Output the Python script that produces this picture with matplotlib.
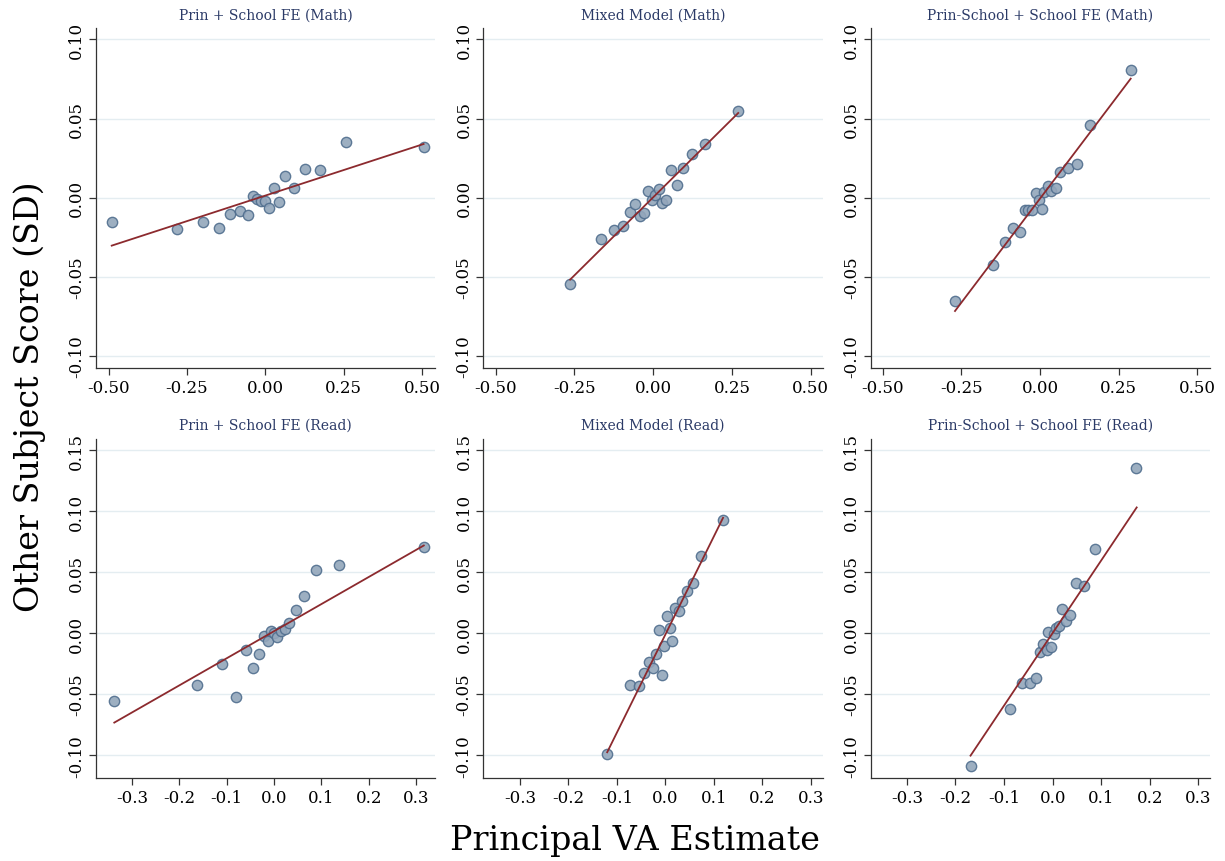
import matplotlib
matplotlib.use("Agg")
import matplotlib.pyplot as plt
from matplotlib.ticker import FormatStrFormatter

# ---- data (binned means + fitted line endpoints) ----
titles = [
    "Prin + School FE (Math)", "Mixed Model (Math)", "Prin-School + School FE (Math)",
    "Prin + School FE (Read)", "Mixed Model (Read)", "Prin-School + School FE (Read)",
]

x_math_prin = [-0.490, -0.283, -0.199, -0.147, -0.112, -0.081, -0.056, -0.040, -0.027, -0.015,
               -0.001, 0.012, 0.027, 0.044, 0.064, 0.091, 0.127, 0.175, 0.259, 0.505]
y_math_prin = [-0.0152, -0.0196, -0.0152, -0.0189, -0.0101, -0.0086, -0.0107, 0.0008, -0.0008, -0.0021,
               -0.0021, -0.0063, 0.0059, -0.0027, 0.0139, 0.0059, 0.0183, 0.0173, 0.0354, 0.0322]

x_math_mixed = [-0.264, -0.166, -0.125, -0.0965, -0.074, -0.058, -0.043, -0.030, -0.017, -0.004,
                0.006, 0.017, 0.029, 0.042, 0.057, 0.074, 0.094, 0.122, 0.165, 0.268]
y_math_mixed = [-0.0545, -0.0263, -0.0204, -0.0179, -0.0093, -0.0042, -0.0118, -0.0099, 0.0042, -0.0017,
                0.0019, 0.0055, -0.0032, -0.0013, 0.0173, 0.0082, 0.0189, 0.0278, 0.0339, 0.0545]

x_math_ps = [-0.270, -0.149, -0.1125, -0.085, -0.064, -0.048, -0.037, -0.025, -0.014, -0.003,
             0.005, 0.014, 0.024, 0.036, 0.051, 0.065, 0.089, 0.116, 0.158, 0.288]
y_math_ps = [-0.0653, -0.0427, -0.0280, -0.0189, -0.0217, -0.0080, -0.0076, -0.0076, 0.0032, -0.0013,
             -0.0069, 0.0036, 0.0074, 0.0042, 0.0059, 0.0164, 0.0187, 0.0211, 0.0457, 0.0804]

x_read_prin = [-0.337, -0.162, -0.110, -0.080, -0.0586, -0.0445, -0.031, -0.021, -0.0134, -0.007,
               0.000, 0.007, 0.0148, 0.023, 0.032, 0.046, 0.064, 0.089, 0.137, 0.316]
y_read_prin = [-0.0553, -0.0424, -0.0252, -0.0525, -0.0134, -0.0284, -0.0170, -0.0019, -0.0068, 0.0016,
               0.0003, -0.0033, 0.0014, 0.0036, 0.0082, 0.0191, 0.0304, 0.0522, 0.0558, 0.0706]

x_read_mixed = [-0.120, -0.072, -0.054, -0.0437, -0.034, -0.025, -0.019, -0.008, -0.0134, -0.0024,
                0.0038, 0.0086, 0.0141, 0.0196, 0.0279, 0.0348, 0.0437, 0.0568, 0.0727, 0.1188]
y_read_mixed = [-0.0993, -0.0427, -0.0429, -0.0328, -0.0235, -0.0287, -0.0167, -0.0345, 0.0030, -0.0104,
                0.0139, 0.0041, -0.0068, 0.0208, 0.0186, 0.0263, 0.0342, 0.0413, 0.0629, 0.0930]

x_read_ps = [-0.169, -0.0878, -0.063, -0.0465, -0.0348, -0.027, -0.0196, -0.012, -0.0024, -0.0086,
             0.0031, 0.0065, 0.0127, 0.0183, 0.0272, 0.0362, 0.0479, 0.0644, 0.0871, 0.1725]
y_read_ps = [-0.1086, -0.0624, -0.0410, -0.0405, -0.0369, -0.0156, -0.0090, -0.0139, -0.0115, 0.0011,
             -0.0005, 0.0044, 0.0057, 0.0200, 0.0104, 0.0153, 0.0410, 0.0388, 0.0689, 0.1351]

# fitted line endpoints (x0, x1), (y0, y1)
fit_x = [(-0.490, 0.505), (-0.264, 0.270), (-0.270, 0.288),
         (-0.337, 0.316), (-0.120, 0.1188), (-0.169, 0.173)]
fit_y = [(-0.0303, 0.0339), (-0.0518, 0.0535), (-0.0716, 0.0752),
         (-0.0733, 0.0719), (-0.0976, 0.0946), (-0.1004, 0.1031)]

xs = [x_math_prin, x_math_mixed, x_math_ps, x_read_prin, x_read_mixed, x_read_ps]
ys = [y_math_prin, y_math_mixed, y_math_ps, y_read_prin, y_read_mixed, y_read_ps]

math_xticks = [-0.50, -0.25, 0.00, 0.25, 0.50]
math_yticks = [-0.10, -0.05, 0.00, 0.05, 0.10]
read_xticks = [-0.3, -0.2, -0.1, 0.0, 0.1, 0.2, 0.3]
read_yticks = [-0.10, -0.05, 0.00, 0.05, 0.10, 0.15]

xlims = [(-0.54, 0.542), (-0.539, 0.538), (-0.537, 0.540),
         (-0.3755, 0.340), (-0.375, 0.324), (-0.374, 0.324)]

plt.rcParams["font.family"] = "DejaVu Serif"

fig, axes = plt.subplots(2, 3, figsize=(12.25, 8.62), dpi=100)
fig.subplots_adjust(left=0.0784, right=0.9878, top=0.966, bottom=0.0959,
                    wspace=0.1425, hspace=0.208)

for i, ax in enumerate(axes.flat):
    top = i < 3
    ax.scatter(xs[i], ys[i], s=55, facecolor="#93a6bb", edgecolor="#506e8e",
               linewidth=1.0, alpha=0.9, zorder=3)
    ax.plot(fit_x[i], fit_y[i], color="#8c2a2e", lw=1.3, zorder=4)

    ax.set_title(titles[i], fontsize=10, color="#2b3a67", pad=7)
    ax.set_xlim(*xlims[i])
    if top:
        ax.set_ylim(-0.1076, 0.107)
        ax.set_xticks(math_xticks)
        ax.set_yticks(math_yticks)
        ax.xaxis.set_major_formatter(FormatStrFormatter("%.2f"))
    else:
        ax.set_ylim(-0.119, 0.1595)
        ax.set_xticks(read_xticks)
        ax.set_yticks(read_yticks)
        ax.xaxis.set_major_formatter(FormatStrFormatter("%.1f"))
    ax.yaxis.set_major_formatter(FormatStrFormatter("%.2f"))

    ax.grid(axis="y", color="#e4edf1", lw=1.0, zorder=0)
    ax.set_axisbelow(True)
    for side in ["top", "right"]:
        ax.spines[side].set_visible(False)
    for side in ["left", "bottom"]:
        ax.spines[side].set_color("#333333")
        ax.spines[side].set_linewidth(0.9)
    ax.tick_params(direction="out", length=5, width=0.9, color="#333333",
                   labelsize=12, labelcolor="black", pad=3)
    for lab in ax.get_yticklabels():
        lab.set_rotation(90)
        lab.set_va("center")

fig.text(0.024, 0.54, "Other Subject Score (SD)", rotation=90, fontsize=24,
         ha="center", va="center")
fig.text(0.518, 0.024, "Principal VA Estimate", fontsize=24, ha="center", va="center")

fig.savefig("out.png", dpi=100)
